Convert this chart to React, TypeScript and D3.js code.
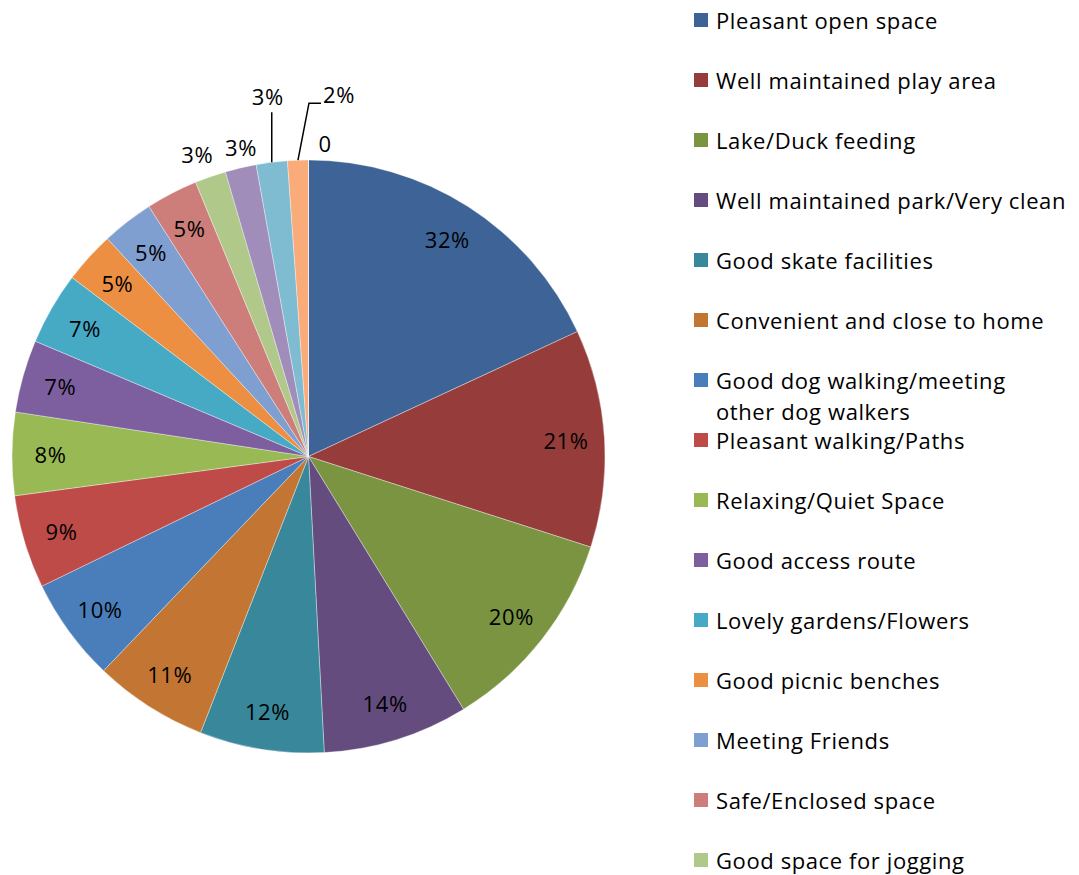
import React from "react";
import * as d3 from "d3";

const values = [32, 21, 20, 14, 12, 11, 10, 9, 8, 7, 7, 5, 5, 5, 3, 3, 3, 2, 0];
const labels = ["32%", "21%", "20%", "14%", "12%", "11%", "10%", "9%", "8%", "7%", "7%", "5%", "5%", "5%", "3%", "3%", "3%", "2%", "0"];
const colors = [
  "#3E6497", "#963C3A", "#7A9442", "#644D7E", "#38879A", "#C37533",
  "#4A7EBB", "#BE4B48", "#98B954", "#7D5FA0", "#46AAC5", "#EC8F42",
  "#7F9FD0", "#CD7D7A", "#B0C88A", "#A08DB9", "#7FBBD1", "#F9AB7A", "#8DB3E2",
];
// Legend entries visible in the picture (the rest fall below the frame)
const legendLines = [
  ["Pleasant open space"],
  ["Well maintained play area"],
  ["Lake/Duck feeding"],
  ["Well maintained park/Very clean"],
  ["Good skate facilities"],
  ["Convenient and close to home"],
  ["Good dog walking/meeting", "other dog walkers"],
  ["Pleasant walking/Paths"],
  ["Relaxing/Quiet Space"],
  ["Good access route"],
  ["Lovely gardens/Flowers"],
  ["Good picnic benches"],
  ["Meeting Friends"],
  ["Safe/Enclosed space"],
  ["Good space for jogging"],
];

const W = 1079;
const H = 875;
const cx = 308.5;
const cy = 456.5;
const R = 296.5;
const FONT = "'Open Sans', sans-serif";
const FS = 22;
const LS = 0.6;

export default function App() {
  const pie = d3.pie<number>().sort(null).value((d) => d).startAngle(0).endAngle(2 * Math.PI);
  const arcs = pie(values);
  const arc = d3.arc<d3.PieArcDatum<number>>().innerRadius(0).outerRadius(R);
  const labelArc = d3.arc<d3.PieArcDatum<number>>().innerRadius(258).outerRadius(258);
  const outArc = d3.arc<d3.PieArcDatum<number>>().innerRadius(321).outerRadius(321);
  const polar = (a: number, r: number) => [cx + r * Math.sin(a), cy - r * Math.cos(a)];

  return (
    <svg width={W} height={H} style={{ position: "absolute", left: 0, top: 0, background: "#fff" }}>
      <g>
        {arcs.map((a, i) => (
          <path key={i} d={arc(a) || ""} transform={`translate(${cx},${cy})`} fill={colors[i]} stroke="#ffffff" strokeOpacity={0.6} strokeWidth={0.6} />
        ))}
      </g>
      <g fontFamily={FONT} fontSize={FS} letterSpacing={LS} fill="#000">
        {arcs.map((a, i) => {
          const mid = (a.startAngle + a.endAngle) / 2;
          if (i < 14) {
            const [x, y] = labelArc.centroid(a);
            return (
              <text key={i} x={cx + x} y={cy + y} textAnchor="middle" dominantBaseline="central">{labels[i]}</text>
            );
          }
          if (i === 14 || i === 15) {
            const [x, y] = outArc.centroid(a);
            const dx = i === 14 ? -5 : 6;
            const dy = i === 14 ? 0 : 3;
            return (
              <text key={i} x={cx + x + dx} y={cy + y + dy} textAnchor="middle" dominantBaseline="central">{labels[i]}</text>
            );
          }
          if (i === 16) {
            const [x0, y0] = polar(mid, R);
            return (
              <g key={i}>
                <line x1={x0} y1={y0} x2={x0} y2={y0 - 50} stroke="#000" strokeWidth={1.5} />
                <text x={x0 - 4} y={y0 - 66} textAnchor="middle" dominantBaseline="central">{labels[i]}</text>
              </g>
            );
          }
          if (i === 17) {
            const [x0, y0] = polar(mid, R);
            const x1 = x0 + 11;
            const y1 = y0 - 57;
            return (
              <g key={i}>
                <polyline points={`${x0},${y0} ${x1},${y1} ${x1 + 12},${y1}`} fill="none" stroke="#000" strokeWidth={1.5} />
                <text x={x1 + 14} y={y1 - 9} textAnchor="start" dominantBaseline="central">{labels[i]}</text>
              </g>
            );
          }
          const [x0, y0] = polar(mid, R + 16);
          return (
            <text key={i} x={x0 + 10} y={y0 - 1} textAnchor="start" dominantBaseline="central">{labels[i]}</text>
          );
        })}
      </g>
      <g fontFamily={FONT} fontSize={FS} letterSpacing={LS} fill="#000">
        {legendLines.map((lines, i) => {
          const y = 20 + i * 60;
          return (
            <g key={i}>
              <rect x={694} y={y - 7} width={14} height={14} fill={colors[i]} />
              {lines.map((t, j) => (
                <text key={j} x={716} y={y + j * 31} dominantBaseline="central">{t}</text>
              ))}
            </g>
          );
        })}
      </g>
    </svg>
  );
}
